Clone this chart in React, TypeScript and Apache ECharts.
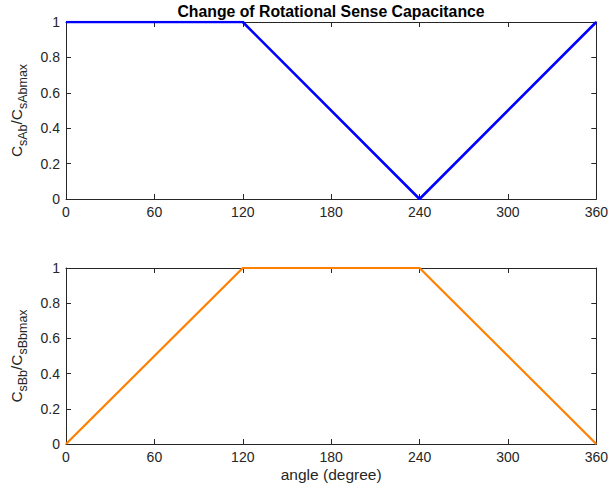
import React, { useEffect, useRef } from "react";
import * as echarts from "echarts";

const angles = [0, 120, 240, 360];
const capA = [1, 1, 0, 1];
const capB = [0, 1, 1, 0];
const xTicks = [0, 60, 120, 180, 240, 300, 360];
const yTicks = [0, 0.2, 0.4, 0.6, 0.8, 1];
const titleText = "Change of Rotational Sense Capacitance";
const xLabel = "angle (degree)";

const FONT = "Liberation Sans, Arial, Helvetica, sans-serif";
const AX = "#262626";

export default function App() {
  const ref = useRef<HTMLDivElement>(null);
  useEffect(() => {
    if (!ref.current) return;
    const chart = echarts.init(ref.current, null, { renderer: "svg" });
    const grids = [
      { left: 66, top: 22, width: 531, height: 177 },
      { left: 66, top: 268, width: 531, height: 176 },
    ];
    const xAxes: any[] = [];
    const yAxes: any[] = [];
    const yNames = [
      "{m|C}{s|sAb}{m|/C}{s|sAbmax}",
      "{m|C}{s|sBb}{m|/C}{s|sBbmax}",
    ];
    grids.forEach((_, i) => {
      const base = {
        gridIndex: i,
        type: "value",
        min: xTicks[0],
        max: xTicks[xTicks.length - 1],
        interval: xTicks[1] - xTicks[0],
        splitLine: { show: false },
        axisLine: { show: true, onZero: false, lineStyle: { color: AX, width: 1 } },
        axisTick: { show: true, inside: true, length: 5, lineStyle: { color: AX } },
      };
      xAxes.push({
        ...base,
        position: "bottom",
        axisLabel: { color: AX, fontSize: 14, fontFamily: FONT, margin: 6 },
        ...(i === 1
          ? {
              name: xLabel,
              nameLocation: "middle",
              nameGap: 22,
              nameTextStyle: { color: AX, fontSize: 15.5, fontFamily: FONT },
            }
          : {}),
      });
      xAxes.push({ ...base, position: "top", axisLabel: { show: false } });
      const ybase = {
        gridIndex: i,
        type: "value",
        min: yTicks[0],
        max: yTicks[yTicks.length - 1],
        interval: 0.2,
        splitLine: { show: false },
        axisLine: { show: true, onZero: false, lineStyle: { color: AX, width: 1 } },
        axisTick: { show: true, inside: true, length: 5, lineStyle: { color: AX } },
      };
      yAxes.push({
        ...ybase,
        position: "left",
        axisLabel: { color: AX, fontSize: 14, fontFamily: FONT, margin: 6 },
        name: yNames[i],
        nameLocation: "middle",
        nameRotate: 90,
        nameGap: 32,
        nameTextStyle: {
          color: AX,
          fontFamily: FONT,
          rich: {
            m: { fontSize: 15.4, fontFamily: FONT, color: AX, lineHeight: 24, verticalAlign: "top", padding: [0, 0, 0, 0] },
            s: { fontSize: 12.5, fontFamily: FONT, color: AX, lineHeight: 24, verticalAlign: "top", padding: [8, 0, 0, 0] },
          },
        },
      });
      yAxes.push({ ...ybase, position: "right", axisLabel: { show: false } });
    });
    chart.setOption({
      animation: false,
      backgroundColor: "#fff",
      graphic: [
        {
          type: "text",
          x: 331,
          y: 11,
          style: {
            text: titleText,
            fill: "#000",
            font: `bold 15.8px ${FONT}`,
            textAlign: "center",
            textVerticalAlign: "middle",
          },
        },
      ],
      grid: grids,
      xAxis: xAxes,
      yAxis: yAxes,
      series: [
        {
          type: "line",
          xAxisIndex: 0,
          yAxisIndex: 0,
          data: angles.map((a, k) => [a, capA[k]]),
          showSymbol: false,
          lineStyle: { color: "#0000ff", width: 2.6 },
          itemStyle: { color: "#0000ff" },
        },
        {
          type: "line",
          xAxisIndex: 2,
          yAxisIndex: 2,
          data: angles.map((a, k) => [a, capB[k]]),
          showSymbol: false,
          lineStyle: { color: "#ff8000", width: 2.2 },
          itemStyle: { color: "#ff8000" },
        },
      ],
    });
    return () => chart.dispose();
  }, []);
  return <div ref={ref} style={{ width: 611, height: 490, position: "absolute", left: 0, top: 0 }} />;
}
